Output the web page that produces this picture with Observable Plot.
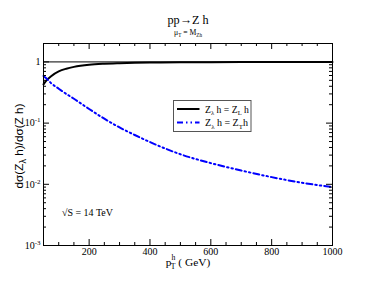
<!DOCTYPE html>
<html><head><meta charset="utf-8">
<script src="https://cdn.jsdelivr.net/npm/d3@7"></script>
<script src="https://cdn.jsdelivr.net/npm/@observablehq/plot@0.6"></script>
<style>body{margin:0;background:#fff} #chart{width:374px;height:289px}</style>
</head><body><div id="chart"></div>
<script>
// Data
const pt = [50, 60, 75, 100, 125, 150, 200, 250, 300, 350, 400, 500, 600, 700, 800, 900, 1000];
const longitudinal = [0.43, 0.50, 0.585, 0.70, 0.775, 0.83, 0.90, 0.935, 0.955, 0.97, 0.978, 0.987, 0.991, 0.994, 0.996, 0.997, 0.998];
const transverse = [0.59, 0.535, 0.45, 0.365, 0.30, 0.25, 0.17, 0.118, 0.085, 0.064, 0.049, 0.031, 0.0222, 0.0168, 0.0131, 0.0106, 0.0090];
const xTickValues = [200, 400, 600, 800, 1000];
const yTickValues = [0.001, 0.01, 0.1, 1];
const yTickLabels = ["10^-3", "10^-2", "10^-1", "1"];
const xDomain = [50, 1000];
const yDomain = [0.001, 2];

const W = 374, H = 289, mL = 43, mR = 42, mT = 43, mB = 44;
const plotW = W - mL - mR, plotH = H - mT - mB;

const longData = pt.map((x, i) => ({pt: x, value: longitudinal[i]}));
const transData = pt.map((x, i) => ({pt: x, value: transverse[i]}));

const xMinor = d3.range(xDomain[0], xDomain[1] + 1, 50).filter(v => !xTickValues.includes(v));
const yMinor = [];
for (const dec of [0.001, 0.01, 0.1]) for (let k = 2; k <= 9; k++) yMinor.push(k * dec);

const dash = "6,3,1.5,3,1.5,3";

const chart = Plot.plot({
  width: W, height: H,
  marginLeft: mL, marginRight: mR, marginTop: mT, marginBottom: mB,
  style: {fontFamily: "'Liberation Serif', serif", background: "white", color: "black"},
  x: {domain: xDomain},
  y: {type: "log", domain: yDomain},
  marks: [
    Plot.ruleY([1], {stroke: "black", strokeWidth: 1}),
    Plot.line(longData, {x: "pt", y: "value", stroke: "black", strokeWidth: 2, curve: "monotone-x"}),
    Plot.line(transData, {x: "pt", y: "value", stroke: "#0000ff", strokeWidth: 2, strokeDasharray: dash, curve: "monotone-x"}),
    Plot.tickX(xTickValues, {stroke: "black", insetTop: plotH - 6}),
    Plot.tickX(xTickValues, {stroke: "black", insetBottom: plotH - 6}),
    Plot.tickX(xMinor, {stroke: "black", insetTop: plotH - 3}),
    Plot.tickX(xMinor, {stroke: "black", insetBottom: plotH - 3}),
    Plot.tickY(yTickValues, {stroke: "black", insetRight: plotW - 6}),
    Plot.tickY(yTickValues, {stroke: "black", insetLeft: plotW - 6}),
    Plot.tickY(yMinor, {stroke: "black", insetRight: plotW - 3}),
    Plot.tickY(yMinor, {stroke: "black", insetLeft: plotW - 3}),
    Plot.axisX({ticks: xTickValues, tickSize: 0, tickPadding: 2, fontSize: 10, label: null, tickFormat: d => String(d)}),
    Plot.axisY({ticks: yTickValues, tickSize: 0, tickPadding: 3, fontSize: 10, label: null,
      tickFormat: d => yTickLabels[yTickValues.indexOf(d)]}),
    Plot.frame({stroke: "black"})
  ]
});
document.getElementById("chart").appendChild(chart);

const svg = d3.select(chart);
// superscript exponents on y tick labels
svg.selectAll('g[aria-label="y-axis tick label"] text').each(function () {
  const t = this.textContent;
  if (t.includes("^")) {
    const [base, exp] = t.split("^");
    this.textContent = base;
    d3.select(this).append("tspan").attr("dy", "-4").attr("font-size", 7).text(exp);
  }
});

// rich text; scaled so its rendered length matches the reference's
function rich(x, y, parts, attrs, size, target) {
  const t = svg.append("text").attr("x", x).attr("y", y).attr("text-anchor", "start").attr("fill", "black");
  for (const k in attrs) t.attr(k, attrs[k]);
  const draw = (k) => {
    t.selectAll("tspan").remove();
    t.attr("font-size", size * k);
    for (const p of parts) {
      const s = t.append("tspan").text(p.t);
      if (p.dy) s.attr("dy", p.dy * k);
      if (p.dx) s.attr("dx", p.dx * k);
      if (p.fs) s.attr("font-size", p.fs * k);
    }
  };
  draw(1);
  if (target) {
    const len = t.node().getComputedTextLength();
    if (len > 0) {
      const k = Math.max(0.7, Math.min(1.4, target / len));
      draw(k);
    }
  }
  return t;
}

const serif = "'Liberation Serif', serif";
// title and subtitle
rich(188, 23.5, [{t: "pp\u2192Z h"}], {"text-anchor": "middle", "font-family": serif}, 13, 41);
rich(188, 35, [{t: "\u03bc"}, {t: "T", dy: 2, fs: 5}, {t: " = M", dy: -2}, {t: "Zh", dy: 2, fs: 5}],
  {"text-anchor": "middle", "font-family": serif}, 7.5, 28);

// x label
rich(188, 265.5, [{t: "p"}, {t: "h", dy: -6, fs: 8.5}, {t: "T", dx: -5, dy: 10, fs: 8.5}, {t: " ( GeV)", dy: -4}],
  {"text-anchor": "middle", "font-family": serif}, 12.5, 49);

// y label
rich(0, 0, [{t: "d\u03c3(Z"}, {t: "\u03bb", dy: 3, fs: 8}, {t: " h)/d\u03c3(Z h)", dy: -3}],
  {"text-anchor": "middle", "font-family": "'Liberation Sans', sans-serif",
   "transform": "translate(23,146) rotate(-90)"}, 10.5, 85);

// annotation
rich(62, 216, [{t: "\u221aS = 14 TeV"}], {"font-family": serif}, 10, 51);

// legend
svg.append("rect").attr("x", 173.5).attr("y", 100.5).attr("width", 77.5).attr("height", 31)
  .attr("fill", "white").attr("stroke", "#555").attr("stroke-width", 1);
svg.append("line").attr("x1", 177).attr("x2", 199.5).attr("y1", 109).attr("y2", 109)
  .attr("stroke", "black").attr("stroke-width", 2);
svg.append("line").attr("x1", 177).attr("x2", 199.5).attr("y1", 122.5).attr("y2", 122.5)
  .attr("stroke", "#0000ff").attr("stroke-width", 2).attr("stroke-dasharray", dash);
rich(205, 112.5, [{t: "Z"}, {t: "\u03bb", dy: 2.5, fs: 6.5}, {t: " h = Z", dy: -2.5}, {t: "L", dy: 2.5, fs: 6.5}, {t: " h", dy: -2.5}],
  {"font-family": serif}, 9.5, 44);
rich(205, 126, [{t: "Z"}, {t: "\u03bb", dy: 2.5, fs: 6.5}, {t: " h = Z", dy: -2.5}, {t: "T", dy: 2.5, fs: 6.5}, {t: "h", dy: -2.5}],
  {"font-family": serif}, 9.5, 43);
</script>
</body></html>
